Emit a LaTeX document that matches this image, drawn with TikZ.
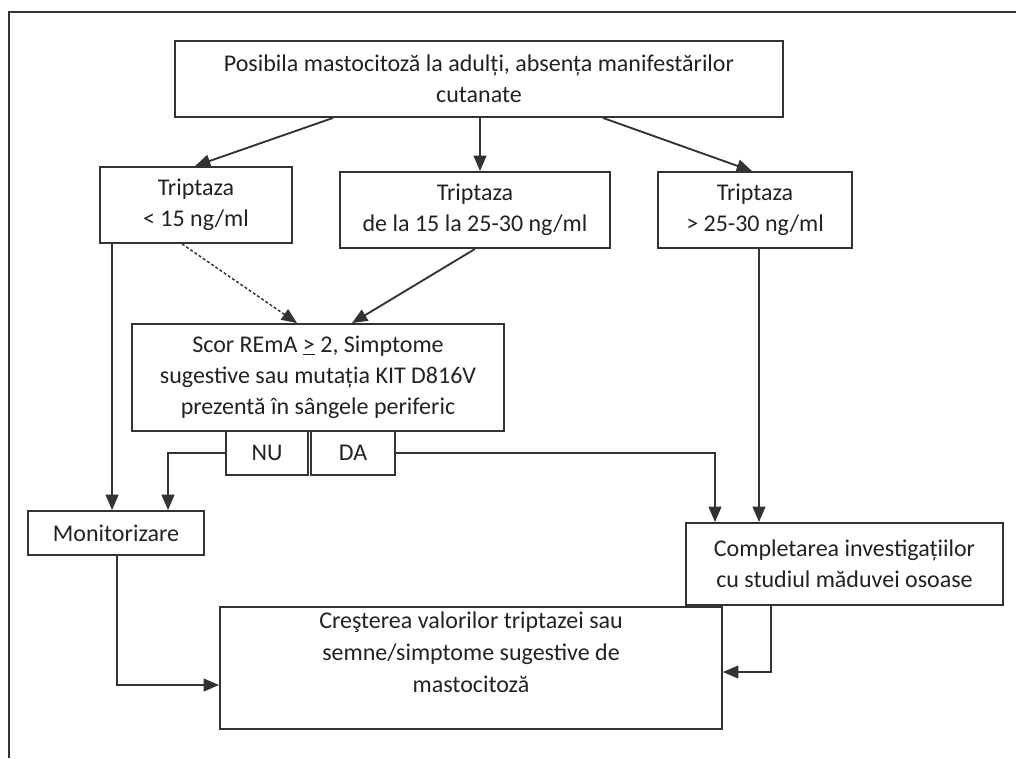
\documentclass[tikz,border=0pt]{standalone}
\usepackage{fontspec}
\setmainfont{Carlito}
\usetikzlibrary{arrows.meta,calc}
\definecolor{linec}{HTML}{333333}
\definecolor{textc}{HTML}{222222}
\begin{document}
\begin{tikzpicture}[x=0.75pt,y=-0.75pt,
  bx/.style 2 args={draw=linec, line width=1.4pt, inner sep=0pt, align=center, text=textc,
    minimum width=#1*0.75pt, minimum height=#2*0.75pt,
    font=\fontsize{18}{23.25}\selectfont},
  arr/.style={draw=linec, line width=1.4pt, -{Triangle[length=11.5pt,width=9.5pt]}},
  ln/.style={draw=linec, line width=1.4pt},
  dsh/.style={draw=linec, line width=1.1pt, dash pattern=on 2.2pt off 1.6pt, -{Triangle[length=11.5pt,width=9.5pt]}}]
\useasboundingbox (0,0) rectangle (1016,758);
\draw[ln] (1016,12) -- (9,12) -- (9,758);

\node[bx={608}{76}] (top) at (479,79) {Posibila mastocitoză la adulți, absența manifestărilor\\cutanate};
\node[bx={192}{76}] (t1) at (196,205) {Triptaza\\< 15 ng/ml};
\node[bx={270}{76}] (t2) at (475,210) {Triptaza\\de la 15 la 25-30 ng/ml};
\node[bx={194}{76}] (t3) at (755,210) {Triptaza\\> 25-30 ng/ml};
\node[bx={372}{107}] (scor) at (318,377.5) {Scor REmA \underline{>} 2, Simptome\\sugestive sau mutația KIT D816V\\prezentă în sângele periferic};
\node[bx={82}{44}] (nu) at (267,453) {NU};
\node[bx={84}{44}] (da) at (353,453) {DA};
\node[bx={176}{44}] (mon) at (116,533) {Monitorizare};
\node[bx={317}{82}] (comp) at (844.5,564) {Completarea investigațiilor\\cu studiul măduvei osoase};
\node[bx={502}{122}] (bot) at (471,668) {\raisebox{6pt}[0pt][0pt]{\begin{tabular}{@{}c@{}}Creşterea valorilor triptazei sau\\[1pt]semne/simptome sugestive de\\[1pt]mastocitoză\end{tabular}}};

\coordinate (a1) at ($(top.south)+(1,0)$);
\coordinate (a2) at ($(t1.south west)+(13,0)$);
\coordinate (a3) at ($(t3.south)+(4,0)$);
\coordinate (a4) at ($(mon.south)+(1,0)$);
\coordinate (a5) at ($(comp.south)+(-73.5,0)$);

\draw[arr] ($(top.south)+(-146,0)$) -- ($(t1.north)+(-1,0)$);
\draw[arr] (a1) -- (a1 |- t2.north);
\draw[arr] ($(top.south)+(124,0)$) -- ($(t3.north)+(-3,0)$);
\draw[dsh] ($(t1.south)+(-14,0)$) -- ($(scor.north)+(-21,0)$);
\draw[arr] (t2.south) -- ($(scor.north)+(34,0)$);
\draw[arr] (a2) -- (a2 |- mon.north);
\draw[arr] (nu.west) -| ($(mon.north)+(52,0)$);
\draw[arr] (da.east) -| ($(comp.north)+(-129.5,0)$);
\draw[arr] (a3) -- (a3 |- comp.north);
\draw[arr] (a4) |- ($(bot.west)+(0,17)$);
\draw[arr] (a5) |- ($(bot.east)+(0,4)$);
\end{tikzpicture}
\end{document}
